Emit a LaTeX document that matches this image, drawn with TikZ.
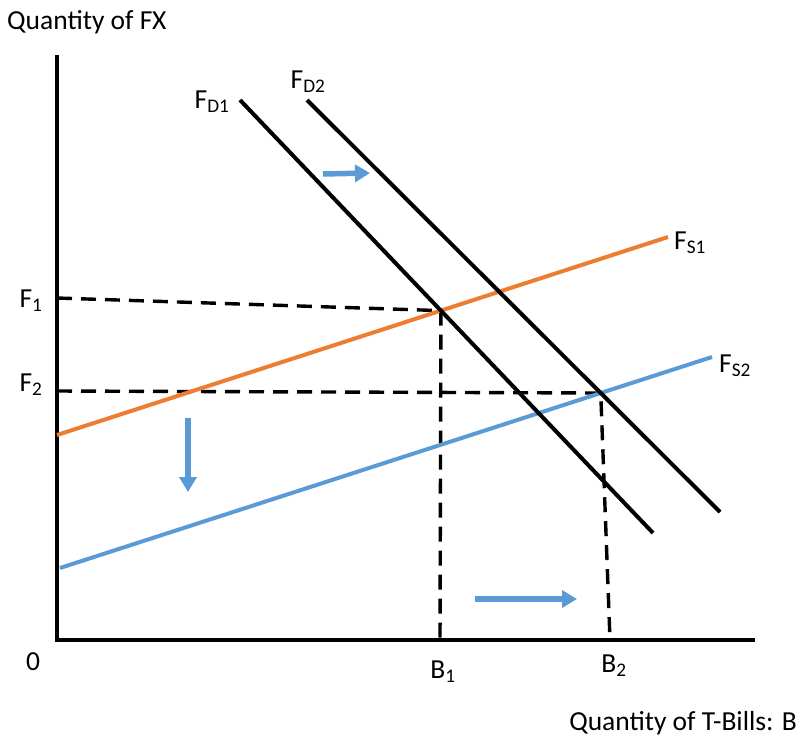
\documentclass[tikz,border=0pt]{standalone}
\usepackage{fontspec}
\setmainfont{Carlito}
\usetikzlibrary{arrows.meta}
\definecolor{sorange}{HTML}{ED7D31}
\definecolor{sblue}{HTML}{5B9BD5}
\begin{document}
\begin{tikzpicture}[x=1pt,y=-1pt,
  axis/.style={line width=4pt},
  curve/.style={line width=4pt},
  guide/.style={line width=3.4pt,dash pattern=on 15pt off 9pt},
  shiftarrow/.style={line width=5.5pt,sblue,-{Triangle[length=15pt,width=17pt]}},
  lbl/.style={inner sep=0pt,font=\fontsize{27.5}{31}\selectfont}]
\useasboundingbox (0,0) rectangle (799,736);
% axes
\coordinate (ytop) at (57,55);
\coordinate (orig) at (57,640);
\coordinate (xend) at (755,640);
\draw[axis] (ytop) -- (orig) -- (xend);
% curves
\coordinate (s1a) at (57,435);  \coordinate (s1b) at (668,237);
\coordinate (s2a) at (60,568);  \coordinate (s2b) at (712,357);
\coordinate (d1a) at (240,100); \coordinate (d1b) at (653,533);
\coordinate (d2a) at (307,100); \coordinate (d2b) at (720,512);
\coordinate (E1) at (intersection of s1a--s1b and d1a--d1b);
\coordinate (E2) at (intersection of s2a--s2b and d2a--d2b);
% guides
\coordinate (f1) at (57,298);
\coordinate (f2) at (57,391);
\coordinate (b1) at (440,640);
\coordinate (b2) at (610,640);
\draw[guide] (f1) -- (E1) -- (b1);
\draw[guide] (f2) -- (E2) -- (b2);
\draw[curve,sorange] (s1a) -- (s1b);
\draw[curve,sblue] (s2a) -- (s2b);
\draw[curve] (d1a) -- (d1b);
\draw[curve] (d2a) -- (d2b);
% shift arrows
\coordinate (a1s) at (323,174); \coordinate (a1e) at (370,173);
\coordinate (a2s) at (188,418); \coordinate (a2e) at (188,492);
\coordinate (a3s) at (475,599); \coordinate (a3e) at (577,599);
\draw[shiftarrow] (a1s) -- (a1e);
\draw[shiftarrow] (a2s) -- (a2e);
\draw[shiftarrow] (a3s) -- (a3e);
% labels
\node[lbl,anchor=west] (ylab) at (7,22) {Quantity of FX};
\node[lbl,anchor=east] (xlab) at (797,723) {Quantity of T-Bills: B};
\node[lbl] (zero) at (33,662) {0};
\node[lbl] (B1) at (443,672) {B\textsubscript{1}};
\node[lbl] (B2) at (614,666) {B\textsubscript{2}};
\node[lbl] (F1) at (31,301) {F\textsubscript{1}};
\node[lbl] (F2) at (31,385) {F\textsubscript{2}};
\node[lbl] (FD1) at (212,102) {F\textsubscript{D1}};
\node[lbl] (FD2) at (308,82) {F\textsubscript{D2}};
\node[lbl] (FS1) at (690,243) {F\textsubscript{S1}};
\node[lbl] (FS2) at (735,366) {F\textsubscript{S2}};
\end{tikzpicture}
\end{document}
